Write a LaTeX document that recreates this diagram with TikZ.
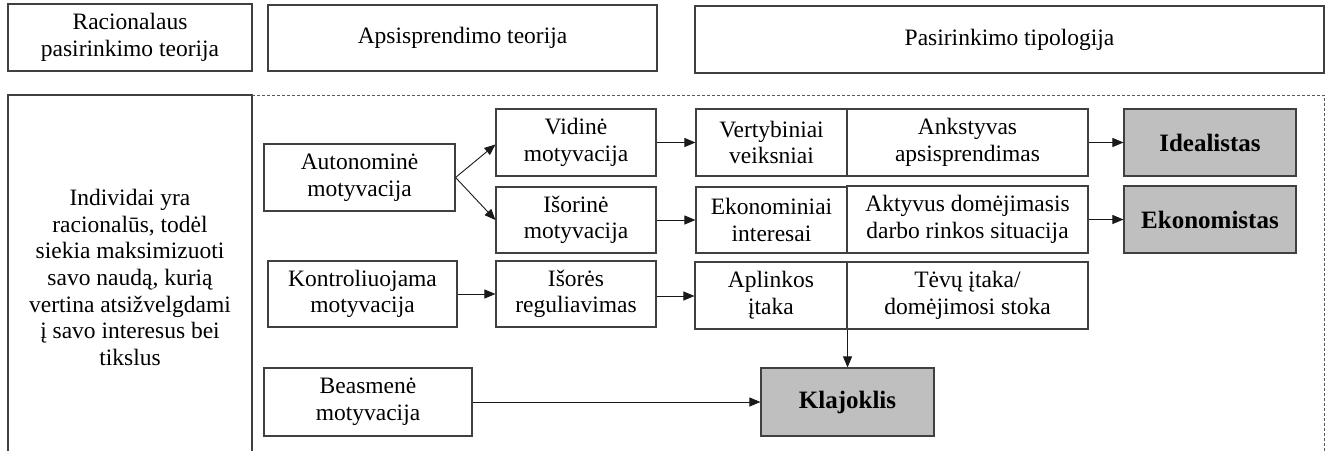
\documentclass[tikz,border=0pt]{standalone}
\usepackage{fontspec}
\setmainfont{Liberation Serif}
\usepackage{tikz}
\usetikzlibrary{shapes, arrows.meta, positioning}

\begin{document}
\begin{tikzpicture}[x=1pt, y=-1pt,
    box/.style={draw=black!75, line width=1.1pt, rectangle, fill=white, align=center, inner sep=0pt,
        font=\fontsize{23.5}{26.7}\selectfont},
    typebox/.style={box, fill=black!25, font=\fontsize{25}{28}\selectfont\bfseries},
    arr/.style={draw=black!90, line width=0.9pt, -{Triangle[length=11pt, width=9pt]}}]
    \useasboundingbox (0,0) rectangle (1331,450);
    % top row
    \node[box, minimum width=244pt, minimum height=67pt] (rational) at (130,37.5) {Racionalaus\\pasirinkimo teorija};
    \node[box, minimum width=389pt, minimum height=66pt] (selfdet) at (462.5,38) {Apsisprendimo teorija};
    \node[box, minimum width=629pt, minimum height=67pt] (typology) at (1009.5,39.5) {Pasirinkimo tipologija};
    % frames
    \draw[black!75, line width=1.1pt] (8,451) -- (8,95) -- (252,95) -- (252,451);
    \draw[black!65, line width=0.9pt, dash pattern=on 3pt off 2pt] (252,95) -- (1324,95) -- (1324,451);
    \node[align=center, font=\fontsize{23.5}{26.7}\selectfont] (individuals) at (130,277.5) {Individai yra\\racionalūs, todėl\\siekia maksimizuoti\\savo naudą, kurią\\vertina atsižvelgdami\\į savo interesus bei\\tikslus};
    % motivation
    \node[box, minimum width=191pt, minimum height=67pt] (auto) at (359.5,177.5) {Autonominė\\motyvacija};
    \node[box, minimum width=160pt, minimum height=67pt] (inner) at (576,142.5) {Vidinė\\motyvacija};
    \node[box, minimum width=160pt, minimum height=66pt] (outer) at (576,220) {Išorinė\\motyvacija};
    \node[box, minimum width=189pt, minimum height=66pt] (control) at (362.5,294) {Kontroliuojama\\motyvacija};
    \node[box, minimum width=160pt, minimum height=66pt] (extreg) at (576,294) {Išorės\\reguliavimas};
    \node[box, minimum width=208pt, minimum height=68pt] (impers) at (368,402) {Beasmenė\\motyvacija};
    % factors
    \node[box, minimum width=151pt, minimum height=67pt] (value) at (771.5,142.5) {Vertybiniai\\veiksniai};
    \node[box, minimum width=241pt, minimum height=67pt] (early) at (967.5,142.5) {Ankstyvas\\apsisprendimas};
    \node[box, minimum width=151pt, minimum height=66pt] (econ) at (771.5,220) {Ekonominiai\\interesai};
    \node[box, minimum width=241pt, minimum height=67pt] (active) at (967.5,219.5) {Aktyvus domėjimasis\\darbo rinkos situacija};
    \node[box, minimum width=152pt, minimum height=67pt] (env) at (771,295.5) {Aplinkos\\įtaka};
    \node[box, minimum width=241pt, minimum height=67pt] (parents) at (967.5,295.5) {Tėvų įtaka/\\domėjimosi stoka};
    % types
    \node[typebox, minimum width=172pt, minimum height=67pt] (idealist) at (1210,142.5) {Idealistas};
    \node[typebox, minimum width=172pt, minimum height=67pt] (economist) at (1210,219.5) {Ekonomistas};
    \node[typebox, minimum width=173pt, minimum height=68pt] (nomad) at (847.5,402) {Klajoklis};
    % arrows
    \draw[arr] (auto.east) -- ([yshift=-2pt]inner.west);
    \draw[arr] (auto.east) -- (outer.west);
    \draw[arr] (inner.east) -- (value.west);
    \draw[arr] (outer.east) -- (econ.west);
    \draw[arr] (early.east) -- (early.east -| idealist.west);
    \draw[arr] (active.east) -- (active.east -| economist.west);
    \draw[arr] (control.east) -- (extreg.west);
    \draw[arr] ([yshift=-2pt]extreg.east) -- ([yshift=-2pt]extreg.east -| env.west);
    \draw[arr] (env.south east) -- (env.south east |- nomad.north);
    \draw[arr] (impers.east) -- (nomad.west);
\end{tikzpicture}
\end{document}
